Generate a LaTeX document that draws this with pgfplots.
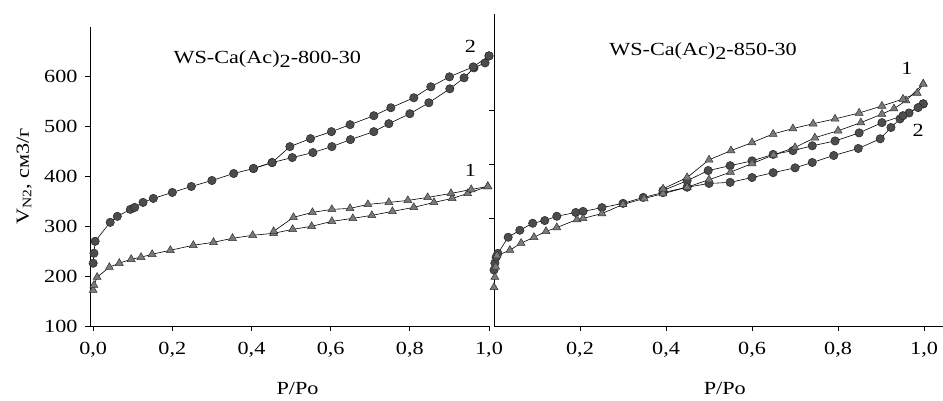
\documentclass[border=0pt]{standalone}
\usepackage{pgfplots}
\pgfplotsset{compat=1.18}
\usepackage{fontspec}
\setmainfont[FakeStretch=1.2]{Liberation Serif}

\pgfplotstableread{
x y
0.000 226
0.002 246
0.005 270
0.043 308
0.061 320
0.094 334
0.105 338
0.126 348
0.152 356
0.200 368
0.248 380
0.300 392
0.355 406
0.405 416
0.452 428
0.503 438
0.555 448
0.603 460
0.650 474
0.709 490
0.747 506
0.800 526
0.848 548
0.901 576
0.937 598
0.962 618
0.990 628
1.000 642
}\leftadsB
\pgfplotstableread{
x y
1.000 642
0.960 620
0.900 600
0.853 580
0.810 558
0.752 538
0.709 522
0.649 504
0.602 490
0.549 476
0.497 460
0.452 428
0.405 416
}\leftdesB
\pgfplotstableread{
x y
0.000 172
0.002 182
0.010 198
0.041 218
0.066 226
0.096 234
0.121 238
0.149 244
0.195 252
0.253 262
0.304 268
0.352 276
0.403 282
0.456 286
0.504 294
0.552 300
0.603 310
0.656 316
0.704 322
0.756 330
0.810 338
0.861 348
0.907 356
0.946 366
0.997 380
}\leftadsA
\pgfplotstableread{
x y
0.997 380
0.955 374
0.904 366
0.845 358
0.795 352
0.747 348
0.694 344
0.649 336
0.603 334
0.554 328
0.506 318
0.456 290
}\leftdesA

\pgfplotstableread{
x y
0.000 172
0.002 191
0.004 210
0.007 231
0.037 241
0.063 254
0.093 265
0.121 276
0.146 283
0.193 298
0.207 300
0.251 309
0.300 326
0.349 337
0.393 346
0.449 358
0.500 372
0.550 386
0.600 402
0.650 418
0.700 432
0.746 450
0.800 463
0.853 478
0.902 494
0.930 504
0.958 519
0.998 550
}\rightadsA
\pgfplotstableread{
x y
0.998 550
0.984 533
0.951 522
0.902 509
0.849 496
0.793 485
0.742 476
0.695 467
0.649 457
0.600 441
0.551 426
0.500 409
0.449 376
0.393 355
}\rightdesA
\pgfplotstableread{
x y
0.000 204
0.002 217
0.005 228
0.009 235
0.033 265
0.060 278
0.090 291
0.118 296
0.146 304
0.190 311
0.207 313
0.251 320
0.300 328
0.347 339
0.393 348
0.449 358
0.500 365
0.549 367
0.600 376
0.649 385
0.700 394
0.740 404
0.790 417
0.847 430
0.898 448
0.923 469
0.944 485
0.965 496
0.998 513
}\rightadsB
\pgfplotstableread{
x y
0.998 513
0.986 506
0.951 491
0.902 478
0.849 459
0.793 444
0.740 435
0.695 426
0.649 419
0.600 407
0.549 398
0.498 389
0.449 370
0.393 352
}\rightdesB

\pgfplotsset{
  iso/.style={
    scale only axis,
    axis x line*=bottom, axis y line*=left,
    axis line style={black, line width=0.8pt},
    tick align=outside, major tick length=5pt,
    tick style={black, line width=0.8pt},
    ticklabel style={font=\fontsize{18.5}{21}\selectfont},
    xticklabel style={yshift=-8pt},
    yticklabel style={xshift=-4pt},
    label style={font=\fontsize{18.5}{21}\selectfont},
    /pgf/number format/assume math mode=true,
    clip=false,
  },
  circ/.style={black, line width=0.6pt, mark=*, mark size=4.2pt,
    mark options={fill=black!70, draw=black!85, line width=0.5pt}},
  tri/.style={black, line width=0.6pt, mark=triangle*, mark size=4.6pt,
    mark options={fill=black!52, draw=black!80, line width=0.5pt}},
}

\begin{document}
\begin{tikzpicture}
\useasboundingbox (0,0) rectangle (943pt,401pt);

\begin{axis}[iso, at={(90pt,75pt)}, anchor=south west,
  width=399pt, height=299pt,
  xmin=-0.008, xmax=1.0, ymin=100, ymax=700,
  xtick={0,0.2,...,1.0}, ytick={100,200,...,600},
  xticklabel style={/pgf/number format/.cd, fixed, fixed zerofill, precision=1, use comma},
  xlabel={P/Po},
  xlabel style={at={(axis description cs:0.52,0)}, anchor=center, yshift=-62pt},
  ylabel={V\textsubscript{N2}, см3/г},
  ylabel style={at={(axis description cs:-0.165,0.5)}, anchor=center},
]
\addplot[circ] table {\leftadsB};
\addplot[circ] table {\leftdesB};
\addplot[tri] table {\leftadsA};
\addplot[tri] table {\leftdesA};
\node[font=\fontsize{18.5}{21}\selectfont] at (axis cs:0.44,636) {WS-Ca(Ac)\raisebox{-0.45ex}{2}-800-30};
\node[font=\fontsize{18.5}{21}\selectfont] at (axis cs:0.953,412) {1};
\node[font=\fontsize{18.5}{21}\selectfont] at (axis cs:0.953,662) {2};
\end{axis}

\begin{axis}[iso, at={(494pt,75pt)}, anchor=south west,
  width=449pt, height=312pt,
  xmin=0, xmax=1.044, ymin=100, ymax=680,
  xtick={0.2,0.4,...,1.0}, ytick={300,400,500}, yticklabels={},
  xticklabel style={/pgf/number format/.cd, fixed, fixed zerofill, precision=1, use comma},
  xlabel={P/Po},
  xlabel style={at={(axis description cs:0.514,0)}, anchor=center, yshift=-62pt},
]
\addplot[circ] table {\rightadsB};
\addplot[circ] table {\rightdesB};
\addplot[tri] table {\rightadsA};
\addplot[tri] table {\rightdesA};
\node[font=\fontsize{18.5}{21}\selectfont] at (axis cs:0.486,611) {WS-Ca(Ac)\raisebox{-0.45ex}{2}-850-30};
\node[font=\fontsize{18.5}{21}\selectfont] at (axis cs:0.96,578) {1};
\node[font=\fontsize{18.5}{21}\selectfont] at (axis cs:0.986,463) {2};
\end{axis}
\end{tikzpicture}
\end{document}
